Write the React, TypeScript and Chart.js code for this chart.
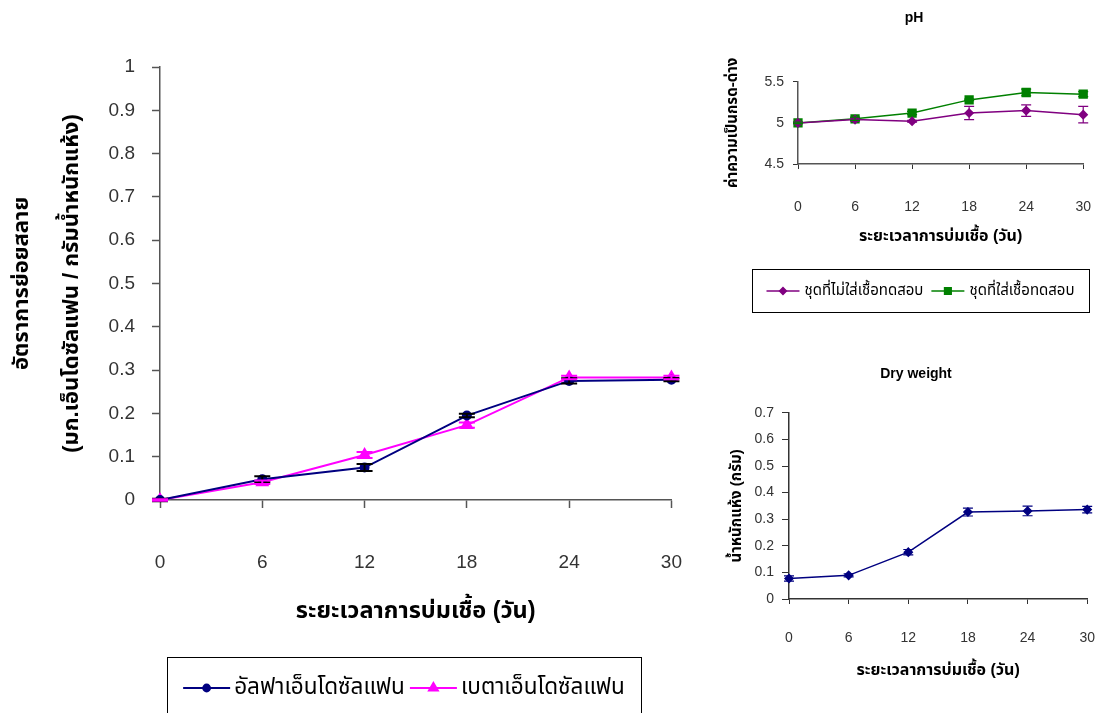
import React, { useEffect, useRef } from 'react';
import { Chart, registerables } from 'chart.js';
import { drawPoint } from 'chart.js/helpers';

Chart.register(...registerables);

const FONT = '"Liberation Sans", Arial, "Noto Sans Thai", "Loma", "Garuda", "DejaVu Sans", "Noto Sans", sans-serif';
Chart.defaults.font.family = FONT;
Chart.defaults.color = '#333';

// ---------- data ----------
const days = ['0', '6', '12', '18', '24', '30'];

const alphaLabel = 'อัลฟาเอ็นโดซัลแฟน';
const alphaValues = [0, 0.048, 0.075, 0.195, 0.275, 0.278];
const alphaErrors = [0.003, 0.007, 0.008, 0.004, 0.006, 0.004];

const betaLabel = 'เบตาเอ็นโดซัลแฟน';
const betaValues = [0, 0.041, 0.104, 0.173, 0.283, 0.283];
const betaErrors = [0.002, 0.004, 0.007, 0.006, 0.004, 0.004];

const phControlLabel = 'ชุดที่ไม่ใส่เชื้อทดสอบ';
const phControl = [5.0, 5.04, 5.02, 5.12, 5.15, 5.1];
const phControlErr = [0.01, 0.02, 0.01, 0.08, 0.07, 0.1];

const phInocLabel = 'ชุดที่ใส่เชื้อทดสอบ';
const phInoc = [5.0, 5.05, 5.12, 5.28, 5.37, 5.35];
const phInocErr = [0.01, 0.02, 0.02, 0.01, 0.04, 0.03];

const dryLabel = 'Dry weight';
const dryWeight = [0.077, 0.089, 0.176, 0.327, 0.331, 0.336];
const dryWeightErr = [0.01, 0.006, 0.01, 0.015, 0.018, 0.012];

const xTitle = 'ระยะเวลาการบ่มเชื้อ (วัน)';
const mainYTitle = ['อัตราการย่อยสลาย', '(มก.เอ็นโดซัลแฟน / กรัมน้ำหนักแห้ง)'];
const phYTitle = 'ค่าความเป็นกรด-ด่าง';
const dryYTitle = 'น้ำหนักแห้ง (กรัม)';

// ---------- plugins ----------
const errorBarPlugin = {
  id: 'errorBars',
  afterDatasetsDraw(chart: any) {
    const ctx = chart.ctx;
    const ys = chart.scales.y;
    chart.data.datasets.forEach((ds: any, i: number) => {
      const errs = ds.errorBars;
      if (!errs) return;
      const meta = chart.getDatasetMeta(i);
      ctx.save();
      ctx.strokeStyle = ds.errorColor || ds.borderColor;
      ctx.lineWidth = ds.errorWidth || 1.5;
      const cap = ds.errorCap || 5;
      meta.data.forEach((pt: any, j: number) => {
        const v = ds.data[j];
        const e = errs[j];
        if (!e) return;
        const x = pt.x;
        const t = ys.getPixelForValue(v + e);
        const b = ys.getPixelForValue(v - e);
        ctx.beginPath();
        ctx.moveTo(x, t); ctx.lineTo(x, b);
        ctx.moveTo(x - cap, t); ctx.lineTo(x + cap, t);
        ctx.moveTo(x - cap, b); ctx.lineTo(x + cap, b);
        ctx.stroke();
      });
      ctx.restore();
    });
  },
};

const boxLegendPlugin = {
  id: 'boxLegend',
  afterDraw(chart: any, _args: any, opts: any) {
    if (!opts || !opts.box) return;
    const ctx = chart.ctx;
    const [bx, by, bw, bh] = opts.box;
    ctx.save();
    ctx.strokeStyle = '#000';
    ctx.lineWidth = 1;
    ctx.strokeRect(bx + 0.5, by + 0.5, bw, bh);
    ctx.font = opts.font;
    ctx.textBaseline = 'middle';
    const lineLen = opts.lineLen;
    const gap = opts.gap;
    const itemGap = opts.itemGap;
    const dss = chart.data.datasets;
    let total = 0;
    dss.forEach((ds: any, i: number) => {
      total += lineLen + gap + ctx.measureText(ds.label).width + (i < dss.length - 1 ? itemGap : 0);
    });
    let x = bx + (bw - total) / 2;
    const cy = by + opts.textY;
    dss.forEach((ds: any) => {
      ctx.strokeStyle = ds.borderColor;
      ctx.lineWidth = ds.borderWidth;
      ctx.beginPath();
      ctx.moveTo(x, cy);
      ctx.lineTo(x + lineLen, cy);
      ctx.stroke();
      ctx.fillStyle = ds.pointBackgroundColor;
      ctx.strokeStyle = ds.pointBorderColor;
      drawPoint(ctx, { pointStyle: ds.pointStyle, radius: ds.pointRadius * 0.85, borderWidth: 1, rotation: 0 } as any, x + lineLen / 2, cy);
      ctx.fillStyle = '#000';
      ctx.fillText(ds.label, x + lineLen + gap, cy);
      x += lineLen + gap + ctx.measureText(ds.label).width + itemGap;
    });
    ctx.restore();
  },
};

const numLabel = (v: any) => String(parseFloat(Number(v).toFixed(2)));

// ---------- configs ----------
function mainConfig(): any {
  return {
    type: 'line',
    data: {
      labels: days,
      datasets: [
        {
          label: alphaLabel, data: alphaValues, errorBars: alphaErrors, errorColor: '#000', errorCap: 8, errorWidth: 2,
          borderColor: '#000080', backgroundColor: '#000080', pointBackgroundColor: '#000080', pointBorderColor: '#000080',
          pointStyle: 'circle', pointRadius: 4, borderWidth: 2, tension: 0,
        },
        {
          label: betaLabel, data: betaValues, errorBars: betaErrors, errorColor: '#FF00FF', errorCap: 8, errorWidth: 2,
          borderColor: '#FF00FF', backgroundColor: '#FF00FF', pointBackgroundColor: '#FF00FF', pointBorderColor: '#FF00FF',
          pointStyle: 'triangle', pointRadius: 6, borderWidth: 2, tension: 0,
        },
      ],
    },
    options: {
      responsive: false,
      animation: false,
      layout: { padding: { left: 0, top: 67, right: 29, bottom: 83 } },
      plugins: {
        legend: { display: false },
        tooltip: { enabled: false },
        boxLegend: { box: [167, 657, 474, 80], font: `22.5px ${FONT}`, textY: 31, lineLen: 47, gap: 4, itemGap: 5 },
      },
      scales: {
        x: {
          type: 'category', offset: false,
          grid: { drawOnChartArea: false, drawTicks: true, tickLength: 8, tickColor: '#555', tickWidth: 1.5 },
          border: { color: '#555', width: 1.5 },
          ticks: { padding: 43, color: '#333', font: { size: 19 } },
          title: { display: true, text: xTitle, color: '#000', font: { size: 23.5, weight: 'bold' }, padding: { top: 0, bottom: 4 } },
          afterFit: (s: any) => { s.height = 130; },
        },
        y: {
          min: 0, max: 1,
          grid: { drawOnChartArea: false, drawTicks: true, tickLength: 8, tickColor: '#555', tickWidth: 1.5 },
          border: { color: '#555', width: 1.5 },
          ticks: { stepSize: 0.1, padding: 17, color: '#333', font: { size: 19 }, callback: numLabel },
          title: { display: true, text: mainYTitle, color: '#000', font: { size: 22, weight: 'bold', lineHeight: 50 / 22 }, padding: { top: -3, bottom: 0 } },
          afterFit: (s: any) => { s.width = 160; },
        },
      },
    },
    plugins: [errorBarPlugin, boxLegendPlugin],
  };
}

function phConfig(): any {
  return {
    type: 'line',
    data: {
      labels: days,
      datasets: [
        {
          label: phControlLabel, data: phControl, errorBars: phControlErr, errorColor: '#800080', errorCap: 5, errorWidth: 1.2,
          borderColor: '#800080', backgroundColor: '#800080', pointBackgroundColor: '#800080', pointBorderColor: '#800080',
          pointStyle: 'rectRot', pointRadius: 4, borderWidth: 1.5, tension: 0,
        },
        {
          label: phInocLabel, data: phInoc, errorBars: phInocErr, errorColor: '#008000', errorCap: 5, errorWidth: 1.2,
          borderColor: '#008000', backgroundColor: '#008000', pointBackgroundColor: '#008000', pointBorderColor: '#008000',
          pointStyle: 'rect', pointRadius: 5.5, borderWidth: 1.5, tension: 0,
        },
      ],
    },
    options: {
      responsive: false,
      animation: false,
      layout: { padding: { left: 0, top: 0, right: 13, bottom: 66 } },
      plugins: {
        legend: { display: false },
        tooltip: { enabled: false },
        title: { display: true, text: 'pH', color: '#000', font: { size: 14, weight: 'bold' }, padding: { top: 10, bottom: 55 } },
        boxLegend: { box: [32, 269, 337, 43], font: `15px ${FONT}`, textY: 22, lineLen: 33, gap: 5, itemGap: 8 },
      },
      scales: {
        x: {
          type: 'category', offset: false,
          grid: { drawOnChartArea: false, drawTicks: true, tickLength: 5, tickColor: '#333', tickWidth: 1 },
          border: { color: '#555', width: 1.5 },
          ticks: { padding: 30, color: '#333', font: { size: 14 } },
          title: { display: true, text: xTitle, color: '#000', font: { size: 16, weight: 'bold' }, padding: { top: 0, bottom: 8 } },
          afterFit: (s: any) => { s.height = 90; },
        },
        y: {
          min: 4.5, max: 5.5,
          grid: { drawOnChartArea: false, drawTicks: true, tickLength: 5, tickColor: '#333', tickWidth: 1 },
          border: { color: '#555', width: 1.5 },
          ticks: { stepSize: 0.5, padding: 9, color: '#333', font: { size: 14 }, callback: numLabel },
          title: { display: true, text: phYTitle, color: '#000', font: { size: 15, weight: 'bold' }, padding: { top: 4, bottom: 0 } },
          afterFit: (s: any) => { s.width = 78; },
        },
      },
    },
    plugins: [errorBarPlugin, boxLegendPlugin],
  };
}

function dryConfig(): any {
  return {
    type: 'line',
    data: {
      labels: days,
      datasets: [
        {
          label: dryLabel, data: dryWeight, errorBars: dryWeightErr, errorColor: '#000080', errorCap: 5, errorWidth: 1.2,
          borderColor: '#000080', backgroundColor: '#000080', pointBackgroundColor: '#000080', pointBorderColor: '#000080',
          pointStyle: 'rectRot', pointRadius: 4, borderWidth: 1.5, tension: 0,
        },
      ],
    },
    options: {
      responsive: false,
      animation: false,
      layout: { padding: { left: 0, top: 0, right: 9, bottom: 0 } },
      plugins: {
        legend: { display: false },
        tooltip: { enabled: false },
        title: { display: true, text: 'Dry weight', color: '#000', font: { size: 14, weight: 'bold' }, padding: { top: 36, bottom: 30 } },
      },
      scales: {
        x: {
          type: 'category', offset: false,
          grid: { drawOnChartArea: false, drawTicks: true, tickLength: 5, tickColor: '#333', tickWidth: 1 },
          border: { color: '#333', width: 1.5 },
          ticks: { padding: 26, color: '#333', font: { size: 14 } },
          title: { display: true, text: xTitle, color: '#000', font: { size: 16, weight: 'bold' }, padding: { top: 0, bottom: 33 } },
          afterFit: (s: any) => { s.height = 114; },
        },
        y: {
          min: 0, max: 0.7,
          grid: { drawOnChartArea: false, drawTicks: true, tickLength: 7, tickColor: '#333', tickWidth: 1 },
          border: { color: '#333', width: 1.5 },
          ticks: { stepSize: 0.1, padding: 8, color: '#333', font: { size: 14 }, callback: numLabel },
          title: { display: true, text: dryYTitle, color: '#000', font: { size: 15, weight: 'bold' }, padding: { top: 8, bottom: 0 } },
          afterFit: (s: any) => { s.width = 69; },
        },
      },
    },
    plugins: [errorBarPlugin],
  };
}

function ChartCanvas({ left, top, width, height, make }: { left: number; top: number; width: number; height: number; make: () => any }) {
  const ref = useRef<HTMLCanvasElement | null>(null);
  useEffect(() => {
    if (!ref.current) return;
    const chart = new Chart(ref.current, make());
    return () => chart.destroy();
  }, [make]);
  return (
    <canvas
      ref={ref}
      width={width}
      height={height}
      style={{ position: 'absolute', left, top, width, height, display: 'block' }}
    />
  );
}

export default function App() {
  return (
    <div style={{ position: 'fixed', left: 0, top: 0, width: 1096, height: 713, background: '#fff', overflow: 'hidden' }}>
      <ChartCanvas left={0} top={0} width={725} height={713} make={mainConfig} />
      <ChartCanvas left={720} top={0} width={401} height={320} make={phConfig} />
      <ChartCanvas left={720} top={330} width={401} height={383} make={dryConfig} />
    </div>
  );
}
